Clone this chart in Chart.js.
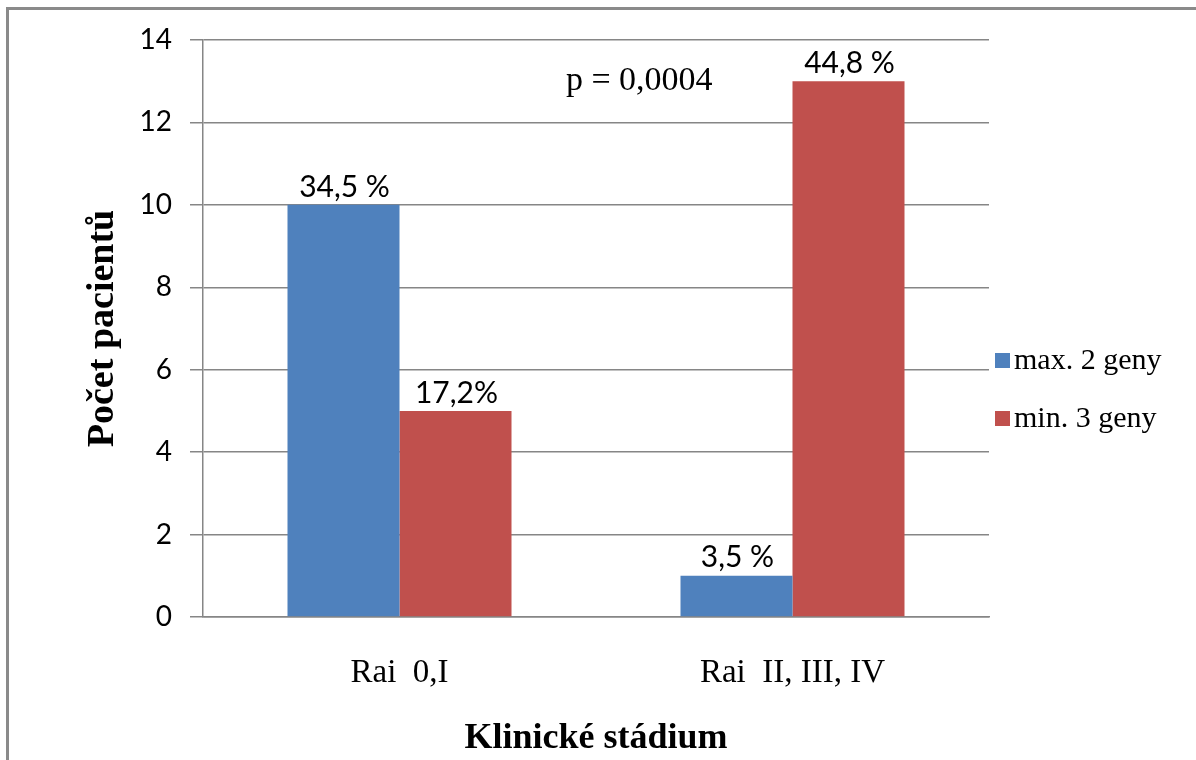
<!DOCTYPE html>
<html lang="cs">
<head>
<meta charset="UTF-8">
<title>Klinické stádium</title>
<script src="https://cdn.jsdelivr.net/npm/chart.js"></script>
<style>
    body { margin: 0; background: #fff; }
    #frame { position: absolute; left: 6px; top: 7px; width: 1190px; height: 753px; border-top: 3px solid #8a8a8a; border-left: 3px solid #8a8a8a; }
    #wrap { position: absolute; left: 0; top: 0; width: 1196px; height: 760px; }
</style>
</head>
<body>
<div id="frame"></div>
<div id="wrap"><canvas id="chart"></canvas></div>
<script>
    // data
    const categories = ['Rai  0,I', 'Rai  II, III, IV'];
    const seriesNames = ['max. 2 geny', 'min. 3 geny'];
    const maxTwo = [10, 1];
    const minThree = [5, 13];
    const maxTwoLabels = ['34,5 %', '3,5 %'];
    const minThreeLabels = ['17,2%', '44,8 %'];
    const pText = 'p = 0,0004';

    const blue = '#4f81bd';
    const red = '#c0504d';
    const gridColor = '#868686';

    // percent labels above the bars
    const barLabels = {
        id: 'barLabels',
        afterDatasetsDraw(chart) {
            const ctx = chart.ctx;
            ctx.save();
            ctx.font = '30px Lato';
            ctx.fillStyle = '#000';
            ctx.textAlign = 'center';
            ctx.textBaseline = 'middle';
            chart.data.datasets.forEach((ds, i) => {
                chart.getDatasetMeta(i).data.forEach((bar, j) => {
                    ctx.fillText(ds.pctLabels[j], bar.x + 1, bar.y - 18);
                });
            });
            // p value note
            ctx.font = '34px "Liberation Serif"';
            ctx.fillText(pText, chart.scales.x.getPixelForValue(0.61), chart.scales.y.getPixelForValue(13));
            ctx.restore();
        }
    };

    // legend at the right, drawn by hand to place it like the original
    const sideLegend = {
        id: 'sideLegend',
        afterDraw(chart) {
            const ctx = chart.ctx;
            ctx.save();
            ctx.font = '30px "Liberation Serif"';
            ctx.textBaseline = 'middle';
            chart.data.datasets.forEach((ds, i) => {
                const y = 360 + i * 58;
                ctx.fillStyle = ds.backgroundColor;
                ctx.fillRect(995, y - 7, 15, 15);
                ctx.fillStyle = '#000';
                ctx.fillText(ds.label, 1014, y + 1);
            });
            ctx.restore();
        }
    };

    new Chart(document.getElementById('chart'), {
        type: 'bar',
        data: {
            labels: categories,
            datasets: [
                { label: seriesNames[0], data: maxTwo, backgroundColor: blue, pctLabels: maxTwoLabels },
                { label: seriesNames[1], data: minThree, backgroundColor: red, pctLabels: minThreeLabels }
            ]
        },
        options: {
            responsive: true,
            maintainAspectRatio: false,
            animation: false,
            layout: { padding: { left: 0, top: 40, right: 207, bottom: 0 } },
            datasets: { bar: { categoryPercentage: 0.57, barPercentage: 1.0 } },
            plugins: { legend: { display: false }, tooltip: { enabled: false } },
            scales: {
                x: {
                    grid: { display: false, drawTicks: false },
                    border: { color: gridColor, width: 1.5 },
                    ticks: { color: '#000', font: { family: 'Liberation Serif', size: 33 }, padding: 37 },
                    title: { display: true, text: 'Klinické stádium', color: '#000', font: { family: 'Liberation Serif', size: 36, weight: 'bold' }, padding: 0 },
                    afterFit(scale) { scale.height = 143; }
                },
                y: {
                    min: 0,
                    max: 14,
                    ticks: { stepSize: 2, color: '#000', font: { family: 'Lato', size: 28 }, padding: 18 },
                    grid: { color: gridColor, lineWidth: 1.5, tickLength: 13 },
                    border: { color: gridColor, width: 1.5 },
                    title: { display: true, text: 'Počet pacientů', color: '#000', font: { family: 'Liberation Serif', size: 38, weight: 'bold' }, padding: { top: 80, bottom: 0 } },
                    afterFit(scale) { scale.width = 203; }
                }
            }
        },
        plugins: [barLabels, sideLegend]
    });
</script>
</body>
</html>
